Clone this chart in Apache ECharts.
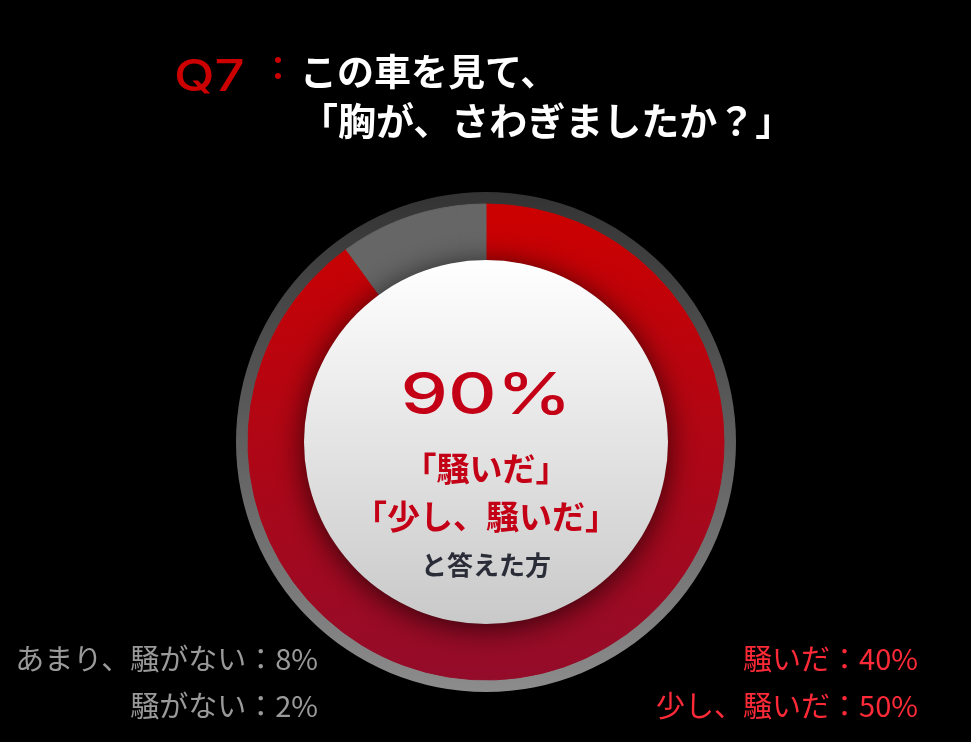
<!DOCTYPE html>
<html>
<head>
<meta charset="utf-8">
<style>
  html, body { margin: 0; padding: 0; background: #000; }
  #main { width: 971px; height: 742px; }
</style>
</head>
<body>
<div id="main"></div>
<script src="https://cdn.jsdelivr.net/npm/echarts@6/dist/echarts.min.js"></script>
<script>
// 回答データ
const categories = ['騒いだ', '少し、騒いだ', 'あまり、騒がない', '騒がない'];
const values = [40, 50, 8, 2];
const isRed = [true, true, false, false];
const titleLines = ['この車を見て、', '「胸が、さわぎましたか？」'];
const centerLines = ['「騒いだ」', '「少し、騒いだ」'];

var JP = '"Noto Sans CJK JP", sans-serif';
var cx = 486, cy = 442;

var redTotal = 0;
values.forEach(function (v, i) { if (isRed[i]) redTotal += v; });

var redGrad = { type: 'linear', x: 0, y: 205, x2: 0, y2: 680, global: true,
  colorStops: [{ offset: 0, color: '#cc0000' }, { offset: 1, color: '#930c2a' }] };
var ringGrad = { type: 'linear', x: 0, y: 192, x2: 0, y2: 692, global: true,
  colorStops: [{ offset: 0, color: '#333333' }, { offset: 1, color: '#8c8c8c' }] };
var whiteGrad = { type: 'linear', x: 0, y: 260, x2: 0, y2: 624, global: true,
  colorStops: [{ offset: 0, color: '#ffffff' }, { offset: 1, color: '#c9c9c9' }] };

var myChart = echarts.init(document.getElementById('main'));

// 下の凡例テキスト（左：灰色、右：赤）
var legendTexts = [];
var leftRow = 0, rightRow = 0;
categories.forEach(function (name, i) {
  var red = isRed[i];
  var row = red ? rightRow++ : leftRow++;
  legendTexts.push({
    type: 'text', z: 100, x: red ? 918 : 318, y: 659 + row * 47,
    style: { text: name + '：' + values[i] + '%', fill: red ? '#ff2a38' : '#9a9a9a',
      font: '29px ' + JP, textAlign: 'right', textVerticalAlign: 'middle' }
  });
});

var option = {
  backgroundColor: '#000',
  animation: false,
  series: [
    { // 外側のリング
      type: 'pie', silent: true, center: [cx, cy], radius: [236, 250],
      label: { show: false }, labelLine: { show: false },
      data: [{ value: 1, itemStyle: { color: ringGrad, borderWidth: 0 } }]
    },
    {
      type: 'pie', silent: true, center: [cx, cy], radius: [182, 238],
      startAngle: 90, clockwise: true,
      label: { show: false }, labelLine: { show: false },
      data: categories.map(function (name, i) {
        var c = isRed[i] ? redGrad : '#666666';
        return { name: name, value: values[i],
          itemStyle: { color: c, borderColor: c, borderWidth: 1 } };
      })
    },
    { // 中央の白い円
      type: 'pie', silent: true, center: [cx, cy], radius: [0, 182],
      label: { show: false }, labelLine: { show: false },
      data: [{ value: 1, itemStyle: { color: whiteGrad, borderWidth: 0, shadowBlur: 30,
        shadowColor: 'rgba(0,0,0,0.7)', shadowOffsetY: 4 } }]
    }
  ],
  graphic: [
    { type: 'text', z: 100, x: 174, y: 78, scaleX: 1.2,
      style: { text: 'Q7', fill: '#cc0000', font: '500 44px Inter, sans-serif',
        textVerticalAlign: 'middle' } },
    { type: 'text', z: 100, x: 262, y: 68,
      style: { text: '：', fill: '#cc0000', font: 'bold 32px ' + JP, textVerticalAlign: 'middle' } },
    { type: 'text', z: 100, x: 300, y: 72,
      style: { text: titleLines[0], fill: '#fff', font: 'bold 37px ' + JP, textVerticalAlign: 'middle' } },
    { type: 'text', z: 100, x: 300, y: 121,
      style: { text: titleLines[1], fill: '#fff', font: 'bold 38px ' + JP, textVerticalAlign: 'middle' } },
    { type: 'text', z: 100, x: cx, y: 397, scaleX: 1.3,
      style: { text: redTotal + '%', fill: '#c40016', font: '500 58px Inter, sans-serif',
        textAlign: 'center', textVerticalAlign: 'middle' } },
    { type: 'text', z: 100, x: cx, y: 468,
      style: { text: centerLines[0], fill: '#c40016', font: 'bold 33px ' + JP,
        textAlign: 'center', textVerticalAlign: 'middle' } },
    { type: 'text', z: 100, x: cx, y: 516,
      style: { text: centerLines[1], fill: '#c40016', font: 'bold 33px ' + JP,
        textAlign: 'center', textVerticalAlign: 'middle' } },
    { type: 'text', z: 100, x: cx, y: 565,
      style: { text: 'と答えた方', fill: '#2a2d38', font: 'bold 26px ' + JP,
        textAlign: 'center', textVerticalAlign: 'middle' } }
  ].concat(legendTexts)
};
myChart.setOption(option);
</script>
</body>
</html>
